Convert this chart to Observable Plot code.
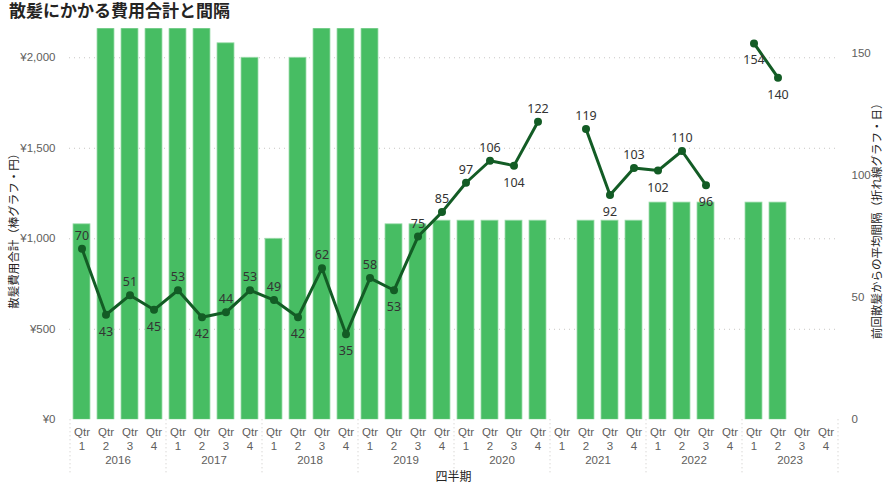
<!DOCTYPE html>
<html>
<head>
<meta charset="utf-8">
<script src="https://cdn.jsdelivr.net/npm/d3@7"></script>
<script src="https://cdn.jsdelivr.net/npm/@observablehq/plot@0.6"></script>
<style>
  body { margin: 0; background: #fff; }
  #wrap { position: relative; width: 885px; height: 486px; overflow: hidden; }
  #title { height: 20px; line-height: 22px; padding-left: 9px; font-family: "Noto Sans", "Noto Sans CJK JP", sans-serif; font-weight: bold; font-size: 17px; color: #252423; }
  #charts { position: relative; width: 885px; height: 466px; }
  #charts > div { position: absolute; left: 0; top: 0; }
</style>
</head>
<body>
<div id="wrap">
  <div id="title">散髪にかかる費用合計と間隔</div>
  <div id="charts"><div id="c1"></div><div id="c2"></div></div>
</div>
<script>
const years = [2016, 2017, 2018, 2019, 2020, 2021, 2022, 2023];
const quarterNums = [1, 2, 3, 4];
const costYen = [
  1080, 2200, 2200, 2200,
  2200, 2200, 2080, 2000,
  1000, 2000, 2200, 2200,
  2200, 1080, 1080, 1100,
  1100, 1100, 1100, 1100,
  null, 1100, 1100, 1100,
  1200, 1200, 1200, null,
  1200, 1200, null, null
];
const intervalDays = [
  70, 43, 51, 45,
  53, 42, 44, 53,
  49, 42, 62, 35,
  58, 53, 75, 85,
  97, 106, 104, 122,
  null, 119, 92, 103,
  102, 110, 96, null,
  154, 140, null, null
];
const costTicks = [0, 500, 1000, 1500, 2000];
const dayTicks = [0, 50, 100, 150];
const leftTitle = "散髪費用合計（棒グラフ・円）";
const rightTitle = "前回散髪からの平均間隔（折れ線グラフ・日）";
const xTitle = "四半期";
const qtrWord = "Qtr";

const rows = years.flatMap((y, i) => quarterNums.map((q, j) => ({
  key: `${y}-Q${q}`, year: y, q,
  cost: costYen[i * 4 + j], days: intervalDays[i * 4 + j]
})));
rows.forEach((d, i) => {
  if (d.days == null) return;
  const nb = [rows[i - 1]?.days, rows[i + 1]?.days].filter(v => v != null);
  d.below = (nb.length > 0 && nb.every(v => v > d.days)) || d.days > 150;
});
const pts = rows.filter(d => d.days != null);

const W = 885, H = 466, mL = 69, mR = 48, mT = 8.3, mB = 66.7;
const font = '"Noto Sans", "Noto Sans CJK JP", sans-serif';
const tickFont = '"Liberation Sans", Arial, sans-serif';
const tickColor = "#605E5C";
const xOpts = { type: "band", domain: rows.map(d => d.key), paddingInner: 0.3, paddingOuter: 0.15, axis: null };
const fh = H - mT - mB;

const p1 = Plot.plot({
  width: W, height: H, marginLeft: mL, marginRight: mR, marginTop: mT, marginBottom: mB,
  style: { fontFamily: font, fontSize: "12px", color: tickColor, background: "transparent", overflow: "visible" },
  x: xOpts,
  y: { domain: [0, 2160], axis: null },
  marks: [
    Plot.gridY(costTicks.filter(t => t > 0), { stroke: "#c8c6c4", strokeOpacity: 1, strokeDasharray: "1,4" }),
    Plot.barY(rows.filter(d => d.cost != null), { x: "key", y: "cost", fill: "#47BD63", stroke: "#9edcac", strokeWidth: 0.8, clip: true }),
    Plot.axisY({ ticks: costTicks, label: null, tickSize: 0, tickPadding: 14, fontSize: 11.5, fontFamily: tickFont, tickFormat: d => "¥" + d3.format(",")(d) }),
    Plot.ruleX(rows.filter(d => d.q === 1), { x: "key", dx: -12, insetTop: fh, insetBottom: -53, stroke: "#c8c6c4", strokeDasharray: "1,3" }),
    Plot.ruleX(rows.slice(-1), { x: "key", dx: 12, insetTop: fh, insetBottom: -53, stroke: "#c8c6c4", strokeDasharray: "1,3" }),
    Plot.text(rows, { x: "key", text: () => qtrWord, frameAnchor: "bottom", dy: 16, fontSize: 11.5, fontFamily: tickFont, fill: tickColor }),
    Plot.text(rows, { x: "key", text: d => String(d.q), frameAnchor: "bottom", dy: 30, fontSize: 11.5, fontFamily: tickFont, fill: tickColor }),
    Plot.text(rows.filter(d => d.q === 2), { x: "key", text: d => String(d.year), dx: 12, frameAnchor: "bottom", dy: 44, fontSize: 11.5, fontFamily: tickFont, fill: tickColor }),
    Plot.text([xTitle], { frameAnchor: "bottom", dy: 61, fontSize: 12, fill: "#252423" }),
    Plot.text([leftTitle], { frameAnchor: "left", textAnchor: "middle", rotate: -90, dx: -55, dy: 4, fontSize: 11.5, fill: "#252423" })
  ]
});
document.getElementById("c1").appendChild(p1);

const p2 = Plot.plot({
  width: W, height: H, marginLeft: mL, marginRight: mR, marginTop: mT, marginBottom: mB,
  style: { fontFamily: font, fontSize: "12px", color: tickColor, background: "transparent", overflow: "visible" },
  x: xOpts,
  y: { domain: [0, 160], axis: null },
  marks: [
    Plot.line(rows, { x: "key", y: "days", stroke: "#135C25", strokeWidth: 3 }),
    Plot.dot(pts, { x: "key", y: "days", r: 4, fill: "#135C25" }),
    Plot.text(pts.filter(d => !d.below), { x: "key", y: "days", text: d => String(d.days), dy: -13, fontSize: 12.5, fill: "#333333" }),
    Plot.text(pts.filter(d => d.below), { x: "key", y: "days", text: d => String(d.days), dy: 17, fontSize: 12.5, fill: "#333333" }),
    Plot.axisY({ anchor: "right", label: null, ticks: dayTicks, tickSize: 0, tickPadding: 14, fontSize: 11.5, fontFamily: tickFont }),
    Plot.text([rightTitle], { frameAnchor: "right", textAnchor: "middle", rotate: -90, dx: 40, dy: -6, fontSize: 11.5, fill: "#252423" })
  ]
});
document.getElementById("c2").appendChild(p2);
</script>
</body>
</html>
